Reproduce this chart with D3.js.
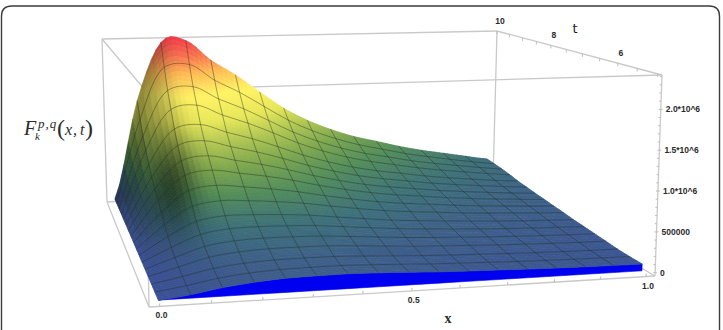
<!DOCTYPE html>
<html>
<head>
<meta charset="utf-8">
<style>
  html, body { margin: 0; padding: 0; background: #fff; }
  svg { display: block; }
</style>
<script src="https://cdnjs.cloudflare.com/ajax/libs/d3/7.8.5/d3.min.js"></script>
</head>
<body>
<svg id="plot" width="723" height="330"></svg>
<script>
// Axis ticks and their labels
const xTicks = [0, 0.5, 1];
const xTickLabels = ["0.0", "0.5", "1.0"];
const xMinorTicks = [0.1, 0.2, 0.3, 0.4, 0.6, 0.7, 0.8, 0.9];
const tTicks = [6, 8, 10];
const tTickLabels = ["6", "8", "10"];
const tMinorTicks = [5, 5.5, 6.5, 7, 7.5, 8.5, 9, 9.5];
const zTicks = [0, 0.5, 1, 1.5, 2];
const zTickLabels = ["0", "500000", "1.0*10^6", "1.5*10^6", "2.0*10^6"];
const zMinorTicks = [0.1, 0.2, 0.3, 0.4, 0.6, 0.7, 0.8, 0.9, 1.1, 1.2, 1.3, 1.4, 1.6, 1.7, 1.8, 1.9, 2.1, 2.2, 2.3, 2.4];

// Mesh positions of the sampled surface
const xSamples = [0, 0.0625, 0.125, 0.1875, 0.25, 0.3125, 0.375, 0.4375, 0.5, 0.5625, 0.625, 0.6875, 0.75, 0.8125, 0.875, 0.9375, 1];
const tSamples = [5, 5.3125, 5.625, 5.9375, 6.25, 6.5625, 6.875, 7.1875, 7.5, 7.8125, 8.125, 8.4375, 8.75, 9.0625, 9.375, 9.6875, 10];

// F(x,t) in millions, one array per t sample, x running from 0 to 1
const row00 = [0, .040, .100, .140, .165, .172, .175, .165, .151, .135, .124, .116, .105, .098, .092, .088, .085];
const row01 = [0, .051, .116, .156, .177, .182, .183, .171, .156, .139, .128, .118, .107, .100, .093, .089, .086];
const row02 = [0, .068, .144, .184, .203, .206, .204, .189, .171, .152, .139, .129, .117, .108, .101, .095, .092];
const row03 = [0, .094, .190, .236, .254, .254, .250, .229, .206, .183, .167, .154, .139, .129, .119, .112, .107];
const row04 = [0, .123, .239, .289, .303, .300, .290, .264, .237, .210, .191, .175, .158, .146, .135, .126, .120];
const row05 = [0, .164, .308, .361, .368, .359, .342, .309, .275, .243, .219, .201, .180, .165, .152, .142, .134];
const row06 = [0, .220, .396, .450, .445, .427, .400, .356, .316, .277, .249, .227, .203, .185, .169, .157, .146];
const row07 = [0, .294, .516, .572, .554, .523, .483, .426, .374, .327, .293, .266, .236, .215, .195, .179, .165];
const row08 = [0, .380, .652, .706, .667, .622, .565, .493, .430, .374, .332, .300, .266, .239, .217, .197, .180];
const row09 = [0, .468, .790, .844, .786, .727, .653, .565, .490, .426, .376, .339, .299, .268, .241, .218, .198];
const row10 = [0, .553, .924, .978, .900, .826, .735, .633, .546, .472, .417, .374, .329, .294, .264, .236, .213];
const row11 = [0, .648, 1.076, 1.129, 1.030, .939, .830, .712, .613, .529, .465, .416, .365, .325, .291, .259, .232];
const row12 = [0, .761, 1.253, 1.303, 1.178, 1.068, .937, .798, .683, .588, .515, .460, .402, .357, .318, .281, .250];
const row13 = [0, .905, 1.482, 1.531, 1.373, 1.239, 1.081, .916, .782, .672, .588, .523, .457, .404, .359, .316, .278];
const row14 = [0, 1.051, 1.710, 1.755, 1.561, 1.400, 1.211, 1.021, .869, .745, .648, .576, .500, .441, .391, .342, .299];
const row15 = [0, 1.248, 2.011, 2.043, 1.795, 1.600, 1.371, 1.146, .969, .830, .718, .634, .549, .483, .422, .366, .316];
const row16 = [0, 1.470, 2.350, 2.370, 2.060, 1.820, 1.545, 1.280, 1.075, .917, .790, .696, .600, .520, .455, .390, .330];
const surfaceRows = [row00, row01, row02, row03, row04, row05, row06, row07, row08, row09, row10, row11, row12, row13, row14, row15, row16];

// Height colour ramp, as fractions of the tallest value
const rampStops = [0, 0.06, 0.15, 0.25, 0.35, 0.45, 0.55, 0.68, 0.8, 0.9, 1];
const rampColors = ["#3a5096", "#3c5a8c", "#3c6e78", "#4f8858", "#78a04b", "#a8bd4e", "#dcdc55", "#f5e85f", "#f5b450", "#eb6e4b", "#e63c46"];

// Box corners on the page: floor and ceiling, front and back
const floorFL = [149, 307], floorFR = [655, 276], floorBL = [107, 202], floorBR = [493, 181];
const ceilFL = [145, 90], ceilFR = [662, 75], ceilBL = [102, 39], ceilBR = [497, 31];

const xScale = d3.scaleLinear().domain([-0.02, 1.02]).range([0, 1]);
const tScale = d3.scaleLinear().domain([4.9, 10]).range([0, 1]);
const zScale = d3.scaleLinear().domain([-0.04, 2.42]).range([0, 1]);
const colorScale = d3.scaleLinear().domain(rampStops.map(d => d * 2.39)).range(rampColors).clamp(true);

// Foreshortening: the left wall and the front wall are nearer the viewer
const foreshorten = (f, r) => f * r / ((1 - f) + f * r);
const mix = (a, b, f) => [a[0] + (b[0] - a[0]) * f, a[1] + (b[1] - a[1]) * f];

function project(x, t, z) {
  const u = foreshorten(xScale(x), 1.08);
  const v = foreshorten(tScale(t), 1.33);
  const w = zScale(z);
  const low = mix(mix(floorFL, floorFR, u), mix(floorBL, floorBR, u), v);
  const high = mix(mix(ceilFL, ceilFR, u), mix(ceilBL, ceilBR, u), v);
  return mix(low, high, w);
}

const svg = d3.select("#plot");
const toPath = d3.line();
const meshLine = d3.line().curve(d3.curveCatmullRom.alpha(0.5));

// Rounded frame around the figure
svg.append("path")
  .attr("d", "M1.5,331V16Q1.5,6 12,6H709Q719.5,6 719.5,16V331")
  .attr("fill", "none").attr("stroke", "#3c3c3c").attr("stroke-width", 1.4);

// Bounding box, drawn first so the surface hides whatever is behind it
const boxEdges = [
  [ceilBL, ceilBR], [ceilBR, ceilFR], [ceilFR, ceilFL], [ceilFL, ceilBL],
  [floorBL, floorBR], [floorBR, floorFR], [floorFR, floorFL], [floorFL, floorBL],
  [ceilFL, floorFL], [ceilFR, floorFR], [ceilBL, floorBL], [ceilBR, floorBR]
];
svg.append("g").selectAll("path").data(boxEdges).join("path")
  .attr("d", d => toPath(d))
  .attr("fill", "none").attr("stroke", "#c9c9c9").attr("stroke-width", 1.3);

// Tick marks along the three labelled edges
const tickMarks = [];
xTicks.concat(xMinorTicks).forEach(x => {
  const p = project(x, 4.9, -0.04);
  tickMarks.push([p, [p[0] + 0.3, p[1] - 3]]);
});
tTicks.concat(tMinorTicks).forEach(t => {
  const p = project(1.02, t, 2.42);
  tickMarks.push([p, [p[0], p[1] + 3]]);
});
zTicks.concat(zMinorTicks).forEach(z => {
  const p = project(1.02, 4.9, z);
  tickMarks.push([[p[0] - 2, p[1]], [p[0] + (zTicks.includes(z) ? 2 : 0), p[1]]]);
});
svg.append("g").selectAll("path").data(tickMarks).join("path")
  .attr("d", d => toPath(d))
  .attr("fill", "none").attr("stroke", "#bdbdbd").attr("stroke-width", 1);

// Catmull-Rom evaluation, so the facets follow a smooth sheet through the samples
const cr = (p0, p1, p2, p3, f) =>
  0.5 * (2 * p1 + (p2 - p0) * f + (2 * p0 - 5 * p1 + 4 * p2 - p3) * f * f + (3 * p1 - p0 - 3 * p2 + p3) * f * f * f);

function sheet(ti, xi) {
  const nT = surfaceRows.length - 1, nX = xSamples.length - 1;
  const i = Math.min(Math.floor(ti), nT - 1), j = Math.min(Math.floor(xi), nX - 1);
  const clampT = k => surfaceRows[Math.max(0, Math.min(nT, k))];
  const across = row => {
    const c = k => row[Math.max(0, Math.min(nX, k))];
    return cr(c(j - 1), c(j), c(j + 1), c(j + 2), xi - j);
  };
  const v = cr(across(clampT(i - 1)), across(clampT(i)), across(clampT(i + 1)), across(clampT(i + 2)), ti - i);
  return Math.max(0, v);
}

const tAt = d3.scaleLinear().domain(d3.range(tSamples.length)).range(tSamples);
const xAt = d3.scaleLinear().domain(d3.range(xSamples.length)).range(xSamples);

// Surface facets, painted from the far corner towards the viewer
const SUB = 5;
const nTf = (surfaceRows.length - 1) * SUB, nXf = (xSamples.length - 1) * SUB;
const facets = [];
const light = (() => { const l = [0.35, -0.25, 0.9]; const n = Math.hypot(...l); return l.map(d => d / n); })();
const flat = light[2];
for (let a = nTf - 1; a >= 0; a--) {
  for (let b = nXf - 1; b >= 0; b--) {
    const ti0 = a / SUB, ti1 = (a + 1) / SUB, xi0 = b / SUB, xi1 = (b + 1) / SUB;
    const z00 = sheet(ti0, xi0), z01 = sheet(ti0, xi1), z10 = sheet(ti1, xi0), z11 = sheet(ti1, xi1);
    const corners = [
      project(xAt(xi0), tAt(ti0), z00), project(xAt(xi1), tAt(ti0), z01),
      project(xAt(xi1), tAt(ti1), z11), project(xAt(xi0), tAt(ti1), z10)
    ];
    const zMid = (z00 + z01 + z10 + z11) / 4;
    const dzdx = ((z01 + z11) - (z00 + z10)) / 2 * nXf / 2.46 * 0.12;
    const dzdt = ((z10 + z11) - (z00 + z01)) / 2 * nTf / 2.46 * 0.12;
    const nLen = Math.hypot(dzdx, dzdt, 1);
    const dot = (-dzdx * light[0] - dzdt * light[1] + light[2]) / nLen / flat;
    let shade = Math.max(0.6, Math.min(1.05, 0.08 + 0.92 * dot));
    // Shadow gathered in the fold at the foot of the ridge
    const xiMid = (xi0 + xi1) / 2, tiMid = (ti0 + ti1) / 2;
    const fold = Math.exp(-Math.pow((xiMid - 1.5) / 0.8, 2)) * Math.exp(-Math.pow((tiMid - 9) / 3.2, 2));
    shade *= 1 - 0.48 * fold;
    const c = d3.rgb(colorScale(zMid));
    const fill = d3.rgb(c.r * shade, c.g * shade, c.b * shade).formatHex();
    facets.push({ corners, fill });
  }
}

// Solid blue skirt under the nearest edge
const skirt = row00.map((z, j) => project(xSamples[j], 5, z))
  .concat(row00.map((z, j) => project(xSamples[j], 5, 0)).reverse());
svg.append("path").attr("d", toPath(skirt) + "Z").attr("fill", "#0000f0")
  .attr("stroke", "#0000f0").attr("stroke-width", 0.6);

svg.append("g").selectAll("path").data(facets).join("path")
  .attr("d", d => toPath(d.corners) + "Z")
  .attr("fill", d => d.fill).attr("stroke", d => d.fill).attr("stroke-width", 0.7);

// Mesh lines in both directions
const mesh = svg.append("g").attr("fill", "none").attr("stroke", "#1e2a1e")
  .attr("stroke-opacity", 0.42).attr("stroke-width", 1);
surfaceRows.forEach((row, i) => {
  if (i === 0 || i === surfaceRows.length - 1) return;
  mesh.append("path").attr("d", meshLine(row.map((z, j) => project(xSamples[j], tSamples[i], z))));
});
xSamples.forEach((x, j) => {
  if (j === 0 || j === xSamples.length - 1) return;
  mesh.append("path").attr("d", meshLine(surfaceRows.map((row, i) => project(x, tSamples[i], row[j]))));
});

// Tick labels
const tickFont = "'Liberation Sans', Arial, sans-serif";
const label = (x, y, s, anchor) => svg.append("text").attr("x", x).attr("y", y).text(s)
  .attr("text-anchor", anchor || "middle").attr("font-family", tickFont)
  .attr("font-size", 8.5).attr("font-weight", 700).attr("fill", "#2b2b2b");

xTicks.forEach((x, k) => { const p = project(x, 4.9, -0.04); label(p[0] + 2, p[1] + 12, xTickLabels[k]); });
tTicks.forEach((t, k) => { const p = project(1.02, t, 2.42); label(p[0] + 3, p[1] - 7, tTickLabels[k]); });
zTicks.forEach((z, k) => { const p = project(1.02, 4.9, z); label(p[0] + 5, p[1] + 3, zTickLabels[k], "start"); });

// Axis titles
svg.append("text").attr("x", 575).attr("y", 33).text("t").attr("text-anchor", "middle")
  .attr("font-family", "'DejaVu Sans', sans-serif").attr("font-size", 13).attr("fill", "#1a1a1a");
svg.append("text").attr("x", 448).attr("y", 323).text("x").attr("text-anchor", "middle")
  .attr("font-family", "'Liberation Serif', serif").attr("font-size", 14).attr("font-weight", 700).attr("fill", "#2b2b2b");

const serif = "'Liberation Serif', serif";
const title = (x, y, s, size) => svg.append("text").attr("x", x).attr("y", y).text(s)
  .attr("font-family", serif).attr("font-style", "italic").attr("font-size", size).attr("fill", "#2b2b2b");
const paren = (x, s) => svg.append("text").attr("x", x).attr("y", 136).text(s)
  .attr("font-family", serif).attr("font-size", 24).attr("font-weight", 300).attr("fill", "#2b2b2b");
title(24, 135, "F", 20);
title(38, 128, "p,q", 13).attr("letter-spacing", 1);
title(35, 140, "k", 11);
paren(57, "(");
title(65, 135, "x", 16);
title(73, 135, ",", 16);
title(80, 135, "t", 16);
paren(85, ")");
</script>
</body>
</html>
